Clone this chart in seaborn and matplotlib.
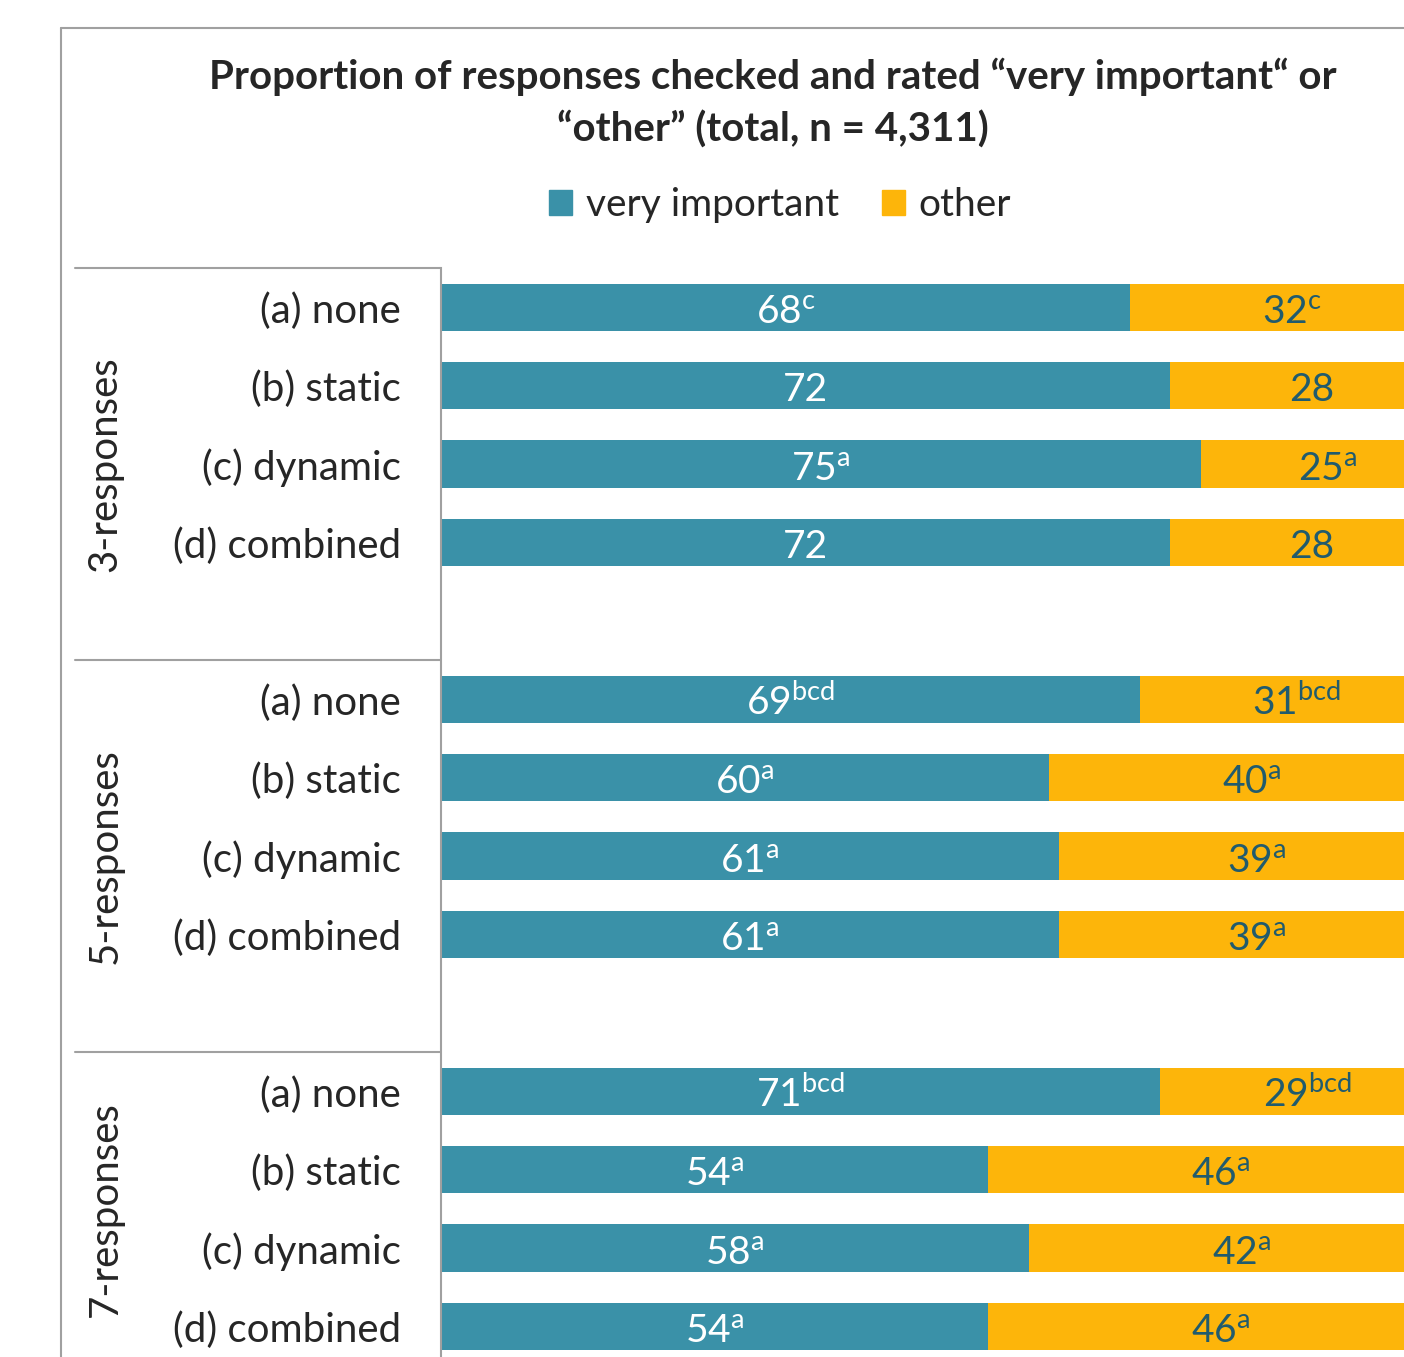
import numpy as np
import pandas as pd
import matplotlib
matplotlib.use("Agg")
import matplotlib.pyplot as plt
import matplotlib.transforms as mtransforms
from matplotlib.lines import Line2D
from matplotlib.patches import Patch
import seaborn as sns

# ---- data -------------------------------------------------------------
scales = ["3-responses", "5-responses", "7-responses"]
conditions = ["(a) none", "(b) static", "(c) dynamic", "(d) combined"]
very_important = [68, 72, 75, 72, 69, 60, 61, 61, 71, 54, 58, 54]
other = [32, 28, 25, 28, 31, 40, 39, 39, 29, 46, 42, 46]
vi_sup = ["c", "", "a", "", "bcd", "a", "a", "a", "bcd", "a", "a", "a"]
other_sup = ["c", "", "a", "", "bcd", "a", "a", "a", "bcd", "a", "a", "a"]
legend_labels = ["very important", "other"]
title = "Proportion of responses checked and rated \u201cvery important\u201c or\n\u201cother\u201d (total, n = 4,311)"

TEAL = "#3A91A8"
GOLD = "#FDB50A"
DARK = "#215B6D"
GREY = "#A0A0A0"
FS = 29

sns.set_theme(style="white")
plt.rcParams["font.family"] = ["Lato", "DejaVu Sans"]
plt.rcParams["mathtext.fontset"] = "custom"
plt.rcParams["mathtext.rm"] = "Lato"
plt.rcParams["mathtext.it"] = "Lato"

# each scale occupies five slots: four bars and a spacer
rows = []
for g, scale in enumerate(scales):
    for j, cond in enumerate(conditions):
        k = g * 4 + j
        rows.append({"scale": scale, "condition": cond, "pos": g * 5 + j,
                     "vi": very_important[k], "other": other[k],
                     "total": very_important[k] + other[k]})
df = pd.DataFrame(rows)

W, H = 1404, 1357
fig = plt.figure(figsize=(W / 100, H / 100), dpi=100)
ax = fig.add_axes([441 / W, -87 / H, 1013 / W, 1176 / H])

sns.barplot(data=df, x="total", y="pos", orient="y", native_scale=True,
            color=GOLD, saturation=1, width=0.6, ax=ax, linewidth=0)
sns.barplot(data=df, x="vi", y="pos", orient="y", native_scale=True,
            color=TEAL, saturation=1, width=0.6, ax=ax, linewidth=0)

ax.set_xlim(0, 100)
ax.set_ylim(14.5, -0.5)
ax.set_xlabel("")
ax.set_ylabel("")
ax.set_xticks([])
ax.set_yticks(df["pos"])
ax.set_yticklabels(df["condition"], fontsize=FS)
ax.tick_params(axis="y", length=0, pad=29)
for side in ["top", "right", "bottom"]:
    ax.spines[side].set_visible(False)
ax.spines["left"].set_color(GREY)
ax.spines["left"].set_linewidth(1.5)


def label(num, sup):
    return f"{num}" + (f"$^{{\\mathrm{{{sup}}}}}$" if sup else "")


for idx, r in df.iterrows():
    ax.text(r["vi"] / 2, r["pos"] + 0.2, label(r["vi"], vi_sup[idx]),
            ha="center", va="baseline", color="white", fontsize=28)
    ax.text(r["vi"] + r["other"] / 2, r["pos"] + 0.2,
            label(r["other"], other_sup[idx]),
            ha="center", va="baseline", color=DARK, fontsize=28)

# group separators and scale names in the label column
blend = mtransforms.blended_transform_factory(fig.transFigure, ax.transData)
for g, scale in enumerate(scales):
    y0 = g * 5 - 0.5
    ax.add_line(Line2D([75 / W, 440 / W], [y0, y0], transform=blend,
                       color=GREY, lw=1.5, clip_on=False))
    yc = [2, 7, 11.5][g]
    ax.text(105 / W, yc, scale, transform=blend, rotation=90, ha="center",
            va="center", fontsize=FS)

# outer frame
fig.add_artist(Line2D([61 / W, 61 / W], [0, 1 - 28 / H], color=GREY, lw=1.5))
fig.add_artist(Line2D([61 / W, 1], [1 - 28 / H, 1 - 28 / H], color=GREY, lw=1.5))

fig.text(773 / W, 1 - 103 / H, title, ha="center", va="center",
         fontsize=FS, fontweight="bold", linespacing=1.45)

handles = [Patch(color=TEAL), Patch(color=GOLD)]
fig.legend(handles, legend_labels, loc="center", ncol=2, frameon=False,
           bbox_to_anchor=(780 / W, 1 - 205 / H), fontsize=28,
           handlelength=0.6, handleheight=0.6, handletextpad=0.35,
           columnspacing=1.1)

fig.savefig("out.png", dpi=100)
